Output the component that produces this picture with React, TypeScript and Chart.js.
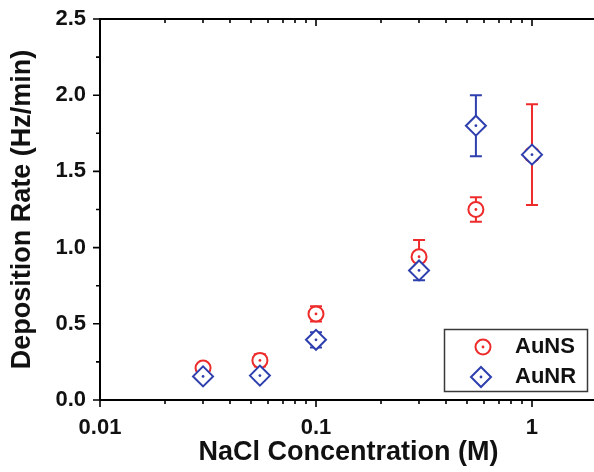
import React, { useEffect, useRef } from "react";
import { Chart, registerables } from "chart.js";

Chart.register(...registerables);

// NaCl concentration (M) for each measurement
const concentrations = [0.03, 0.055, 0.1, 0.3, 0.55, 1];

// Deposition rate (Hz/min) and its error, gold nanospheres
const ausnRate = [0.21, 0.26, 0.565, 0.94, 1.25, 1.61];
const ausnErr = [0.02, 0.04, 0.05, 0.11, 0.08, 0.33];

// Deposition rate (Hz/min) and its error, gold nanorods
const aunrRate = [0.155, 0.16, 0.395, 0.85, 1.8, 1.61];
const aunrErr = [0.03, 0.03, 0.05, 0.065, 0.2, 0.03];

// Axis ticks
const xTicks = [
  0.01, 0.02, 0.03, 0.04, 0.05, 0.06, 0.07, 0.08, 0.09,
  0.1, 0.2, 0.3, 0.4, 0.5, 0.6, 0.7, 0.8, 0.9,
  1, 2,
];
const xLabeled = [0.01, 0.1, 1];
const xTickLabels = ["0.01", "0.1", "1"];
const yTicks = [0, 0.5, 1, 1.5, 2, 2.5];
const yTickLabels = ["0.0", "0.5", "1.0", "1.5", "2.0", "2.5"];
const yMinorTicks = [0.25, 0.75, 1.25, 1.75, 2.25];

const seriesNames = ["AuNS", "AuNR"];
const RED = "#ee2b2b";
const BLUE = "#2e3fae";
const FONT = "'Liberation Sans', Arial, sans-serif";

const errors = [ausnErr, aunrErr];
const rates = [ausnRate, aunrRate];
const colors = [RED, BLUE];

function drawCircleMarker(ctx: CanvasRenderingContext2D, x: number, y: number, color: string) {
  ctx.beginPath();
  ctx.arc(x, y, 7.5, 0, Math.PI * 2);
  ctx.fillStyle = "#fff";
  ctx.fill();
  ctx.lineWidth = 2;
  ctx.strokeStyle = color;
  ctx.stroke();
  ctx.beginPath();
  ctx.arc(x, y, 1.4, 0, Math.PI * 2);
  ctx.fillStyle = color;
  ctx.fill();
}

function drawDiamondMarker(ctx: CanvasRenderingContext2D, x: number, y: number, color: string) {
  const r = 10;
  ctx.beginPath();
  ctx.moveTo(x, y - r);
  ctx.lineTo(x + r, y);
  ctx.lineTo(x, y + r);
  ctx.lineTo(x - r, y);
  ctx.closePath();
  ctx.fillStyle = "#fff";
  ctx.fill();
  ctx.lineWidth = 2;
  ctx.strokeStyle = color;
  ctx.stroke();
  ctx.beginPath();
  ctx.arc(x, y, 1.4, 0, Math.PI * 2);
  ctx.fillStyle = color;
  ctx.fill();
}

const framePlugin = {
  id: "frame",
  beforeDatasetsDraw(chart: any) {
    const { ctx } = chart;
    const xs = chart.scales.x;
    const ys = chart.scales.y;
    ctx.save();
    ctx.lineWidth = 2;
    for (let s = 0; s < rates.length; s++) {
      ctx.strokeStyle = colors[s];
      for (let i = 0; i < concentrations.length; i++) {
        const px = xs.getPixelForValue(concentrations[i]);
        const top = ys.getPixelForValue(rates[s][i] + errors[s][i]);
        const bot = ys.getPixelForValue(rates[s][i] - errors[s][i]);
        ctx.beginPath();
        ctx.moveTo(px, top);
        ctx.lineTo(px, bot);
        ctx.moveTo(px - 6, top);
        ctx.lineTo(px + 6, top);
        ctx.moveTo(px - 6, bot);
        ctx.lineTo(px + 6, bot);
        ctx.stroke();
      }
    }
    ctx.restore();
  },
  afterDatasetDraw(chart: any, args: any) {
    const { ctx } = chart;
    const color = colors[args.index];
    ctx.save();
    ctx.fillStyle = color;
    for (const el of args.meta.data) {
      ctx.beginPath();
      ctx.arc(el.x, el.y, 1.4, 0, Math.PI * 2);
      ctx.fill();
    }
    ctx.restore();
  },
  afterDraw(chart: any) {
    const { ctx, chartArea } = chart;
    const xs = chart.scales.x;
    const ys = chart.scales.y;
    const { left, top, right, bottom } = chartArea;
    ctx.save();
    ctx.strokeStyle = "#000";
    ctx.lineWidth = 2;
    // axis lines: left, bottom, top
    ctx.beginPath();
    ctx.moveTo(left, top - 1);
    ctx.lineTo(left, bottom + 1);
    ctx.moveTo(left - 1, bottom);
    ctx.lineTo(right + 10, bottom);
    ctx.moveTo(left - 1, top);
    ctx.lineTo(right + 10, top);
    ctx.stroke();
    // x ticks (bottom outward, top inward)
    ctx.lineWidth = 1.6;
    ctx.beginPath();
    for (const v of xTicks) {
      const px = Math.round(xs.getPixelForValue(v));
      const len = xLabeled.includes(v) ? 7 : 4;
      ctx.moveTo(px, bottom);
      ctx.lineTo(px, bottom + len);
      ctx.moveTo(px, top);
      ctx.lineTo(px, top + len);
    }
    // y ticks (left outward)
    for (const v of yTicks) {
      const py = ys.getPixelForValue(v);
      ctx.moveTo(left, py);
      ctx.lineTo(left - 7, py);
    }
    for (const v of yMinorTicks) {
      const py = ys.getPixelForValue(v);
      ctx.moveTo(left, py);
      ctx.lineTo(left - 4, py);
    }
    ctx.stroke();

    // legend box
    const bx = 444.5, by = 329.5, bw = 143, bh = 62;
    ctx.fillStyle = "#fff";
    ctx.fillRect(bx, by, bw, bh);
    ctx.lineWidth = 1.5;
    ctx.strokeStyle = "#3a3a3a";
    ctx.strokeRect(bx, by, bw, bh);
    drawCircleMarker(ctx, 483, 347, RED);
    drawDiamondMarker(ctx, 481, 377, BLUE);
    ctx.fillStyle = "#111";
    ctx.font = `bold 22px ${FONT}`;
    ctx.textAlign = "left";
    ctx.textBaseline = "middle";
    ctx.fillText(seriesNames[0], 515, 347);
    ctx.fillText(seriesNames[1], 515, 377);
    ctx.restore();
  },
};

export default function App() {
  const canvasRef = useRef<HTMLCanvasElement | null>(null);

  useEffect(() => {
    const canvas = canvasRef.current;
    if (!canvas) return;
    const chart = new Chart(canvas, {
      type: "scatter",
      data: {
        datasets: [
          {
            label: seriesNames[0],
            data: concentrations.map((c, i) => ({ x: c, y: ausnRate[i] })),
            pointStyle: "circle",
            pointRadius: 7.5,
            pointBorderWidth: 2,
            pointBorderColor: RED,
            pointBackgroundColor: "#fff",
            order: 1,
          },
          {
            label: seriesNames[1],
            data: concentrations.map((c, i) => ({ x: c, y: aunrRate[i] })),
            pointStyle: "rectRot",
            pointRadius: 10,
            pointBorderWidth: 2,
            pointBorderColor: BLUE,
            pointBackgroundColor: "#fff",
            order: 0,
          },
        ],
      },
      options: {
        animation: false,
        responsive: false,
        events: [],
        layout: {
          autoPadding: false,
          padding: { top: 19, right: 3, left: 0, bottom: 0 },
        },
        plugins: {
          legend: { display: false },
          tooltip: { enabled: false },
        },
        scales: {
          x: {
            type: "logarithmic",
            position: "bottom",
            min: 0.01,
            max: 2,
            grid: { display: false, drawTicks: false },
            border: { display: false },
            afterBuildTicks: (scale: any) => {
              scale.ticks = xLabeled.map((v) => ({ value: v }));
            },
            afterFit: (scale: any) => {
              scale.height = 72;
              scale.paddingLeft = 0;
              scale.paddingRight = 0;
            },
            ticks: {
              autoSkip: false,
              maxRotation: 0,
              minRotation: 0,
              padding: 15,
              color: "#111",
              font: { family: FONT, size: 22, weight: "bold" },
              callback: (v: any) => {
                const i = xLabeled.indexOf(Number(v));
                return i >= 0 ? xTickLabels[i] : "";
              },
            },
            title: {
              display: true,
              text: "NaCl Concentration (M)",
              color: "#111",
              font: { family: FONT, size: 27, weight: "bold" },
              padding: { top: 0, bottom: 3 },
            },
          },
          y: {
            type: "linear",
            min: 0,
            max: 2.5,
            grid: { display: false, drawTicks: false },
            border: { display: false },
            afterBuildTicks: (scale: any) => {
              scale.ticks = yTicks.map((v) => ({ value: v }));
            },
            afterFit: (scale: any) => {
              scale.width = 100;
              scale.paddingTop = 0;
              scale.paddingBottom = 0;
            },
            ticks: {
              padding: 14,
              color: "#111",
              font: { family: FONT, size: 22, weight: "bold" },
              callback: (v: any) => {
                const i = yTicks.indexOf(Number(v));
                return i >= 0 ? yTickLabels[i] : "";
              },
            },
            title: {
              display: true,
              text: "Deposition Rate (Hz/min)",
              color: "#111",
              font: { family: FONT, size: 27, weight: "bold" },
              padding: { top: 6, bottom: 0 },
            },
          },
        },
      },
      plugins: [framePlugin],
    });
    return () => chart.destroy();
  }, []);

  return (
    <div
      style={{
        position: "fixed",
        left: 0,
        top: 0,
        width: 594,
        height: 472,
        overflow: "hidden",
        background: "#fff",
      }}
    >
      <canvas
        ref={canvasRef}
        width={600}
        height={472}
        style={{ width: 600, height: 472, display: "block" }}
      />
    </div>
  );
}
